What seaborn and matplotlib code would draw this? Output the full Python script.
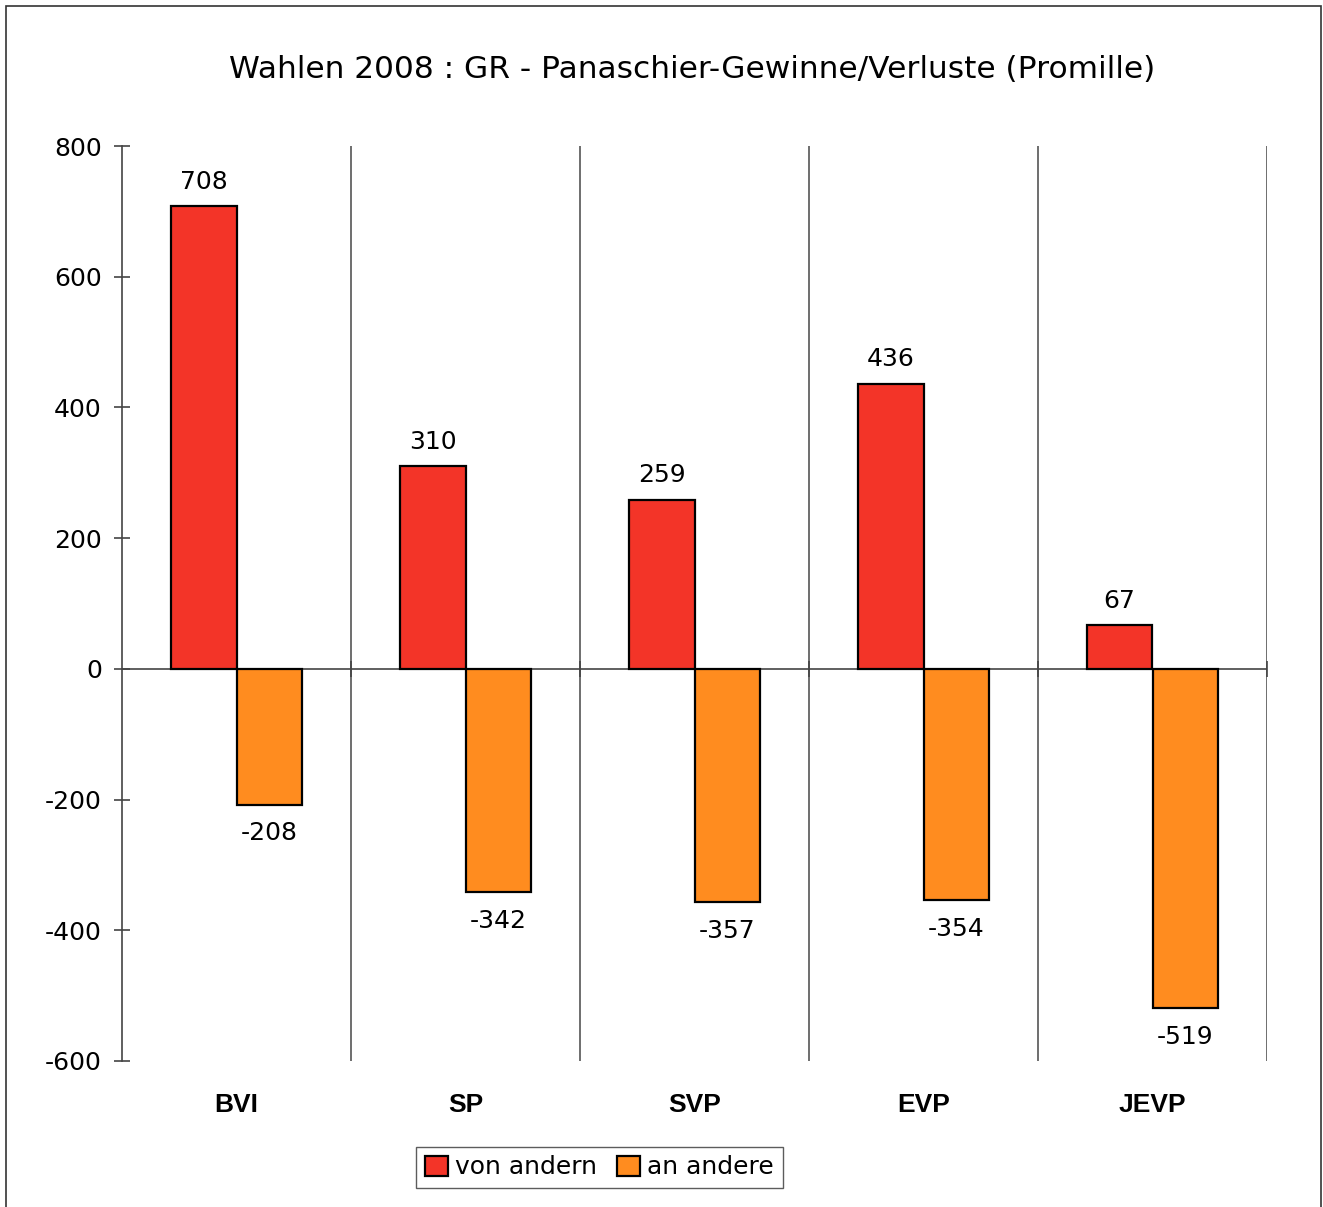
import pandas as pd
import matplotlib
matplotlib.use("Agg")
import matplotlib.pyplot as plt
import seaborn as sns
from matplotlib.patches import Rectangle

# data
parties = ["BVI", "SP", "SVP", "EVP", "JEVP"]
von_andern = [708, 310, 259, 436, 67]
an_andere = [-208, -342, -357, -354, -519]
series = ["von andern", "an andere"]
colors = ["#f33428", "#ff8c1f"]

df = pd.DataFrame({
    "Partei": parties * 2,
    "Wert": von_andern + an_andere,
    "Richtung": [series[0]] * len(parties) + [series[1]] * len(parties),
})

sns.set_style("white")
plt.rcParams["font.family"] = ["DejaVu Sans"]
plt.rcParams["axes.unicode_minus"] = False
plt.rcParams["text.color"] = "black"
plt.rcParams["xtick.color"] = "black"
plt.rcParams["ytick.color"] = "black"
plt.rcParams["xtick.labelcolor"] = "black"
plt.rcParams["ytick.labelcolor"] = "black"

fig = plt.figure(figsize=(13.23, 12.07), dpi=100)
ax = fig.add_axes([122 / 1323, 1 - 1061 / 1207, (1267 - 122) / 1323, (1061 - 146) / 1207])

sns.barplot(data=df, x="Partei", y="Wert", hue="Richtung", order=parties,
            hue_order=series, palette=colors, width=0.576, dodge=True,
            edgecolor="black", linewidth=1.6, saturation=1, ax=ax, legend=True)

# value labels
for cont, pad in zip(ax.containers, [9, 12]):
    ax.bar_label(cont, labels=[f"{int(v)}" for v in cont.datavalues],
                 padding=pad, fontsize=18, color="black")

ax.set_ylim(-600, 800)
ax.set_xlim(-0.5, len(parties) - 0.5)
ax.set_yticks(range(-600, 801, 200))
ax.set_xlabel("")
ax.set_ylabel("")

# separators and zero line
for i in range(len(parties)):
    ax.axvline(i + 0.5, color="#555555", linewidth=1.2, zorder=0)
ax.axhline(0, color="#444444", linewidth=1.2, zorder=0.5)
ax.plot([i + 0.5 for i in range(len(parties))], [0] * len(parties), "|",
        color="#444444", markersize=11, markeredgewidth=1.2, zorder=0.5)

for s in ["top", "right", "bottom"]:
    ax.spines[s].set_visible(False)
ax.spines["left"].set_color("#444444")
ax.spines["left"].set_linewidth(1.2)
ax.tick_params(axis="y", direction="inout", length=11, width=1.2, color="#444444",
               labelsize=18, pad=9, left=True)
ax.tick_params(axis="x", length=0, pad=23)
for lab in ax.get_xticklabels():
    lab.set_fontweight("bold")
    lab.set_fontsize(19)
    lab.set_family(["Liberation Sans", "DejaVu Sans"])

ax.legend(loc="center", bbox_to_anchor=(599.5 / 1323, 1 - 1167.5 / 1207),
          bbox_transform=fig.transFigure, ncol=2, fontsize=18, frameon=True,
          fancybox=False, edgecolor="#333333", handlelength=0.9, handleheight=0.9,
          handletextpad=0.3, columnspacing=0.8, borderpad=0.35)
ax.get_legend().get_frame().set_linewidth(1.0)

fig.suptitle("Wahlen 2008 : GR - Panaschier-Gewinne/Verluste (Promille)",
             x=692 / 1323, y=1 - 70 / 1207, va="center", fontsize=22.5, color="black")

fig.patches.append(Rectangle((6 / 1323, -0.01), (1321 - 6) / 1323, 1 - 6 / 1207 + 0.01,
                             transform=fig.transFigure, fill=False,
                             edgecolor="#333333", linewidth=1.2))

fig.savefig("out.png", dpi=100)
